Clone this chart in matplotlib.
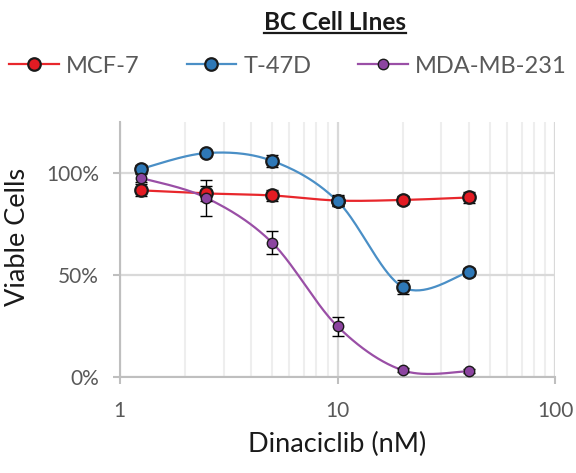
import numpy as np
import matplotlib
matplotlib.use("Agg")
import matplotlib.pyplot as plt
from matplotlib.lines import Line2D
from matplotlib.ticker import NullFormatter, FuncFormatter, LogLocator

# ---- data ----
dose = [1.25, 2.5, 5, 10, 20, 40]
mcf7 = [0.915, 0.900, 0.890, 0.865, 0.868, 0.880]
mcf7_err = [0.030, 0.035, 0.025, 0.025, 0.020, 0.025]
t47d = [1.020, 1.098, 1.060, 0.862, 0.440, 0.515]
t47d_err = [0.020, 0.015, 0.030, 0.025, 0.035, 0.020]
mda = [0.976, 0.878, 0.659, 0.248, 0.032, 0.028]
mda_err = [0.020, 0.090, 0.055, 0.045, 0.010, 0.010]
series_names = ["MCF-7", "T-47D", "MDA-MB-231"]
title = "BC Cell LInes"
xlabel = "Dinaciclib (nM)"
ylabel = "Viable Cells"

FONT = ["Lato", "DejaVu Sans"]
plt.rcParams["font.family"] = FONT

fig = plt.figure(figsize=(5.76, 4.73), dpi=100)
ax = fig.add_axes([0.208, 0.203, 0.756, 0.539])
ax.set_xscale("log")
ax.set_xlim(1, 100)
ax.set_ylim(0, 1.25)

# grid
ax.xaxis.set_minor_locator(LogLocator(base=10, subs=np.arange(2, 10)))
ax.xaxis.set_minor_formatter(NullFormatter())
ax.grid(True, which="minor", axis="x", color="#eeeeee", lw=1.5, zorder=0)
ax.grid(True, which="major", axis="x", color="#d9d9d9", lw=1.6, zorder=0)
ax.set_yticks([0, 0.5, 1.0])
ax.grid(True, which="major", axis="y", color="#d9d9d9", lw=1.6, zorder=0)
ax.yaxis.set_major_formatter(FuncFormatter(lambda v, p: f"{v*100:.0f}%"))
ax.xaxis.set_major_formatter(FuncFormatter(lambda v, p: f"{v:g}"))

for s in ["top", "right"]:
    ax.spines[s].set_visible(False)
for s in ["left", "bottom"]:
    ax.spines[s].set_color("#bfbfbf")
    ax.spines[s].set_linewidth(1.5)
ax.tick_params(axis="both", which="major", color="#bfbfbf", length=5, width=1.5,
               labelsize=15, labelcolor="#595959")
ax.tick_params(axis="y", pad=10)
ax.tick_params(axis="x", pad=12)
ax.tick_params(axis="x", which="minor", length=0)

ax.set_xlabel(xlabel, fontsize=19.5, color="#1a1a1a", labelpad=8)
ax.set_ylabel(ylabel, fontsize=19.5, color="#1a1a1a")
ax.yaxis.set_label_coords(-0.207, 0.55)


def smooth(xs, ys, n=40):
    # Excel-style smoothed line: Catmull-Rom Bezier in scaled (log x, y) space
    u = np.log10(np.array(xs)) * 217.0
    v = np.array(ys) * 205.0
    P = np.column_stack([u, v])
    Pe = np.vstack([P[0], P, P[-1]])
    out = []
    t = np.linspace(0, 1, n)
    for i in range(len(P) - 1):
        p0, p1, p2, p3 = Pe[i], Pe[i + 1], Pe[i + 2], Pe[i + 3]
        c1 = p1 + (p2 - p0) / 6.0
        c2 = p2 - (p3 - p1) / 6.0
        seg = ((1 - t)[:, None] ** 3 * p1 + 3 * ((1 - t) ** 2 * t)[:, None] * c1
               + 3 * ((1 - t) * t ** 2)[:, None] * c2 + (t ** 3)[:, None] * p2)
        out.append(seg)
    out = np.vstack(out)
    return 10 ** (out[:, 0] / 217.0), out[:, 1] / 205.0


styles = [
    (mcf7, mcf7_err, "#e8272c", "#e31b23", 9.0, 1.6),
    (t47d, t47d_err, "#4a8fc6", "#2e78b7", 9.0, 1.6),
    (mda, mda_err, "#9a4fa6", "#8c44a0", 7.5, 1.0),
]
handles = []
for (ys, errs, lc, fc, ms, mew), name in zip(styles, series_names):
    sx, sy = smooth(dose, ys)
    ax.plot(sx, sy, color=lc, lw=1.6, zorder=3)
    ax.errorbar(dose, ys, yerr=errs, fmt="none", ecolor="black", elinewidth=1.0,
                capsize=4.5, capthick=1.0, zorder=4)
    ax.plot(dose, ys, ls="none", marker="o", ms=ms, mfc=fc, mec="#1a1a1a",
            mew=mew, zorder=5)
    handles.append(Line2D([], [], color=lc, lw=1.6, marker="o", ms=ms, mfc=fc,
                          mec="#1a1a1a", mew=mew))

leg = fig.legend(handles, series_names, loc="center", bbox_to_anchor=(0.5, 0.86),
                 ncol=3, frameon=False, fontsize=17, handlelength=2.1,
                 columnspacing=2.0, handletextpad=0.3, labelcolor="#595959")

t = fig.text(0.582, 0.953, title, ha="center", va="center", fontsize=17.5,
             fontweight="bold", color="#1a1a1a")
fig.canvas.draw()
bb = t.get_window_extent(renderer=fig.canvas.get_renderer())
bbf = bb.transformed(fig.transFigure.inverted())
fig.add_artist(Line2D([bbf.x0, bbf.x1], [bbf.y0 + 0.001, bbf.y0 + 0.001],
                      transform=fig.transFigure, color="#1a1a1a", lw=1.6))

fig.savefig("out.png", dpi=100)
